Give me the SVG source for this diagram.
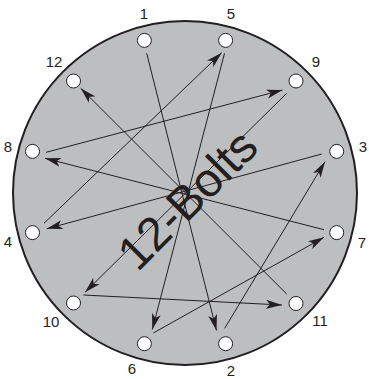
<svg xmlns="http://www.w3.org/2000/svg" width="369" height="379" viewBox="0 0 369 379">
<style>
.lbl{font-family:"Liberation Sans",Arial,sans-serif;font-size:15px;fill:#231f20;text-anchor:middle}
.hole{fill:#fff;stroke:#231f20;stroke-width:1}
.ln{stroke:#231f20;stroke-width:1;fill:none}
</style>
<defs>
<marker id="ah" markerUnits="userSpaceOnUse" viewBox="-16 -5 17 10" refX="0" refY="0" markerWidth="17" markerHeight="10" orient="auto">
<path d="M0,0 L-16,-4.5 L-12,0 L-16,4.5 Z" fill="#231f20"/>
</marker>
</defs>
<rect width="369" height="379" fill="#fff"/>
<g id="flange">
<circle cx="185" cy="193" r="172" fill="#bdbec0" stroke="#231f20" stroke-width="2"/>
</g>
<g id="title">
<text transform="translate(187,199) rotate(-45)" x="0" y="17" font-family="Liberation Sans, Arial, sans-serif" font-size="47.5" fill="#231f20" text-anchor="middle">12-Bolts</text>
</g>
<g id="connectors">
<line class="ln" x1="146.7" y1="53.3" x2="216.5" y2="330.5" marker-end="url(#ah)"/>
<line class="ln" x1="224.7" y1="328.3" x2="325" y2="161.7" marker-end="url(#ah)"/>
<line class="ln" x1="321.7" y1="154" x2="46.7" y2="228.8" marker-end="url(#ah)"/>
<line class="ln" x1="44" y1="223.3" x2="221.7" y2="52.7" marker-end="url(#ah)"/>
<line class="ln" x1="224.5" y1="53.3" x2="152.3" y2="329.5" marker-end="url(#ah)"/>
<line class="ln" x1="153.3" y1="333" x2="324" y2="237.3" marker-end="url(#ah)"/>
<line class="ln" x1="324" y1="229.7" x2="45" y2="158.3" marker-end="url(#ah)"/>
<line class="ln" x1="46" y1="152.3" x2="282.5" y2="90" marker-end="url(#ah)"/>
<line class="ln" x1="286.7" y1="93.3" x2="85" y2="292.3" marker-end="url(#ah)"/>
<line class="ln" x1="83.3" y1="295" x2="282" y2="305" marker-end="url(#ah)"/>
<line class="ln" x1="286.7" y1="294" x2="80.7" y2="88.3" marker-end="url(#ah)"/>
</g>
<g id="bolt1"><circle class="hole" cx="144.4" cy="40.4" r="7"/><text class="lbl" x="144" y="19">1</text></g>
<g id="bolt5"><circle class="hole" cx="225.6" cy="40.4" r="7"/><text class="lbl" x="231" y="19">5</text></g>
<g id="bolt9"><circle class="hole" cx="296" cy="81" r="7"/><text class="lbl" x="316" y="67">9</text></g>
<g id="bolt3"><circle class="hole" cx="336.7" cy="151.4" r="7"/><text class="lbl" x="363" y="152">3</text></g>
<g id="bolt7"><circle class="hole" cx="336.7" cy="232.6" r="7"/><text class="lbl" x="362" y="248">7</text></g>
<g id="bolt11"><circle class="hole" cx="296" cy="303.5" r="7"/><text class="lbl" x="320" y="326">11</text></g>
<g id="bolt2"><circle class="hole" cx="225.6" cy="343.7" r="7"/><text class="lbl" x="231" y="376">2</text></g>
<g id="bolt6"><circle class="hole" cx="144.4" cy="343.7" r="7"/><text class="lbl" x="132" y="374">6</text></g>
<g id="bolt10"><circle class="hole" cx="73.5" cy="303" r="7"/><text class="lbl" x="51" y="327">10</text></g>
<g id="bolt4"><circle class="hole" cx="32.5" cy="232.6" r="7"/><text class="lbl" x="8" y="247">4</text></g>
<g id="bolt8"><circle class="hole" cx="32.5" cy="151.4" r="7"/><text class="lbl" x="8" y="152">8</text></g>
<g id="bolt12"><circle class="hole" cx="73.5" cy="81" r="7"/><text class="lbl" x="54" y="67">12</text></g>
</svg>
